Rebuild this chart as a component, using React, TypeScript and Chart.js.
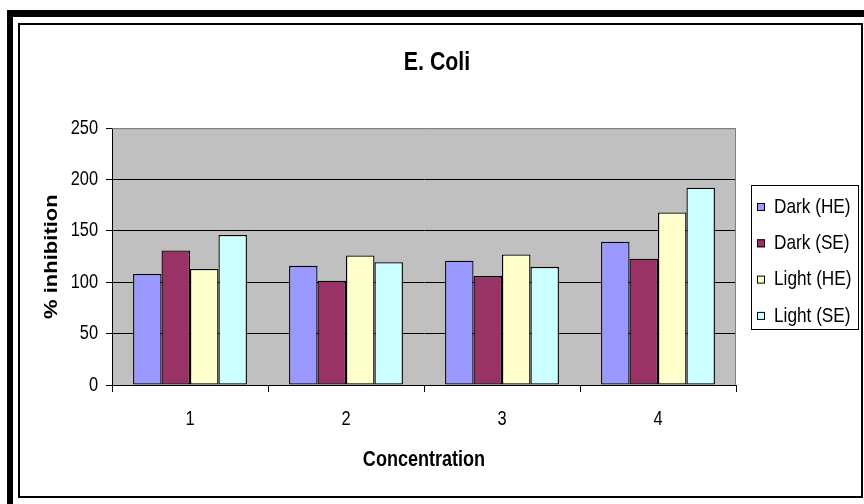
import React, { useEffect, useRef } from "react";
import { Chart, registerables } from "chart.js";

Chart.register(...registerables);

// Concentration levels on the x axis
const categories = ["1", "2", "3", "4"];
// Extract series
const seriesNames = ["Dark (HE)", "Dark (SE)", "Light (HE)", "Light (SE)"];
const darkHE = [108, 116, 121, 139.5];
const darkSE = [131, 101.5, 106, 123];
const lightHE = [113, 126, 127, 168];
const lightSE = [146, 119.5, 115, 192];
const seriesColors = ["#9999FF", "#993366", "#FFFFCC", "#CCFFFF"];
// Value axis
const yMin = 0;
const yMax = 250;
const yStep = 50;

const FONT = "'Liberation Sans', Arial, sans-serif";
// Condensed lettering: all text is squeezed along the screen's x direction
const TEXT_SCALE_X = 0.82;

// Grey plot background plus the grey top/right plot edge
const plotBackground = {
  id: "plotBackground",
  beforeDraw(chart: any) {
    const { ctx, chartArea: a } = chart;
    ctx.save();
    ctx.fillStyle = "#C0C0C0";
    ctx.fillRect(a.left, a.top, a.right - a.left, a.bottom - a.top);
    ctx.restore();
  },
  beforeDatasetsDraw(chart: any) {
    const { ctx, chartArea: a } = chart;
    ctx.save();
    ctx.strokeStyle = "#808080";
    ctx.lineWidth = 1;
    ctx.beginPath();
    ctx.moveTo(a.left, a.top + 0.5);
    ctx.lineTo(a.right - 0.5, a.top + 0.5);
    ctx.lineTo(a.right - 0.5, a.bottom);
    ctx.stroke();
    ctx.restore();
  },
};

// Boxed legend to the right of the plot
const boxedLegend = {
  id: "boxedLegend",
  afterDraw(chart: any) {
    const { ctx } = chart;
    const left = 751;
    const top = 185;
    const width = 107;
    const height = 144;
    ctx.save();
    ctx.strokeStyle = "#000";
    ctx.lineWidth = 1;
    ctx.strokeRect(left + 0.5, top + 0.5, width, height);
    ctx.font = `21px ${FONT}`;
    ctx.textBaseline = "middle";
    ctx.textAlign = "left";
    chart.data.datasets.forEach((ds: any, i: number) => {
      const cy = top + 21 + i * 36.3;
      ctx.fillStyle = ds.backgroundColor;
      ctx.fillRect(left + 6, cy - 3, 8, 8);
      ctx.strokeStyle = "#000";
      ctx.strokeRect(left + 6.5, cy - 2.5, 7, 7);
      ctx.fillStyle = "#000";
      ctx.fillText(ds.label, left + 23, cy + 1);
    });
    ctx.restore();
  },
};

export default function App() {
  const canvasRef = useRef<HTMLCanvasElement | null>(null);

  useEffect(() => {
    const canvas = canvasRef.current;
    if (!canvas) return;
    const ctx = canvas.getContext("2d") as CanvasRenderingContext2D;
    const plainFillText = ctx.fillText.bind(ctx);
    ctx.fillText = (text: string, x: number, y: number) => {
      const m = ctx.getTransform();
      const p = m.transformPoint(new DOMPoint(x, y));
      ctx.save();
      ctx.setTransform(
        new DOMMatrix()
          .translate(p.x, p.y)
          .scale(TEXT_SCALE_X, 1)
          .translate(-p.x, -p.y)
          .multiply(m)
      );
      plainFillText(text, x, y);
      ctx.restore();
    };

    Chart.defaults.font.family = FONT;
    Chart.defaults.color = "#000";
    const seriesValues = [darkHE, darkSE, lightHE, lightSE];
    const chart = new Chart(canvas, {
      type: "bar",
      data: {
        labels: categories,
        datasets: seriesNames.map((name, i) => ({
          label: name,
          data: seriesValues[i],
          backgroundColor: seriesColors[i],
          borderColor: "#000",
          borderWidth: 1.3,
          borderSkipped: false,
          categoryPercentage: 0.73,
          barPercentage: 1,
        })),
      },
      options: {
        animation: false,
        responsive: false,
        devicePixelRatio: 1,
        layout: { padding: { left: 10, right: 0, top: 0, bottom: 0 } },
        plugins: {
          legend: { display: false },
          tooltip: { enabled: false },
          title: {
            display: true,
            text: "E. Coli",
            color: "#000",
            font: { size: 26, weight: "bold", family: FONT },
            padding: { top: 47, bottom: 50 },
          },
        },
        scales: {
          x: {
            grid: {
              offset: true,
              drawOnChartArea: false,
              color: "#000",
              tickLength: 7,
            },
            border: { color: "#000", width: 1 },
            ticks: { color: "#000", font: { size: 20 }, padding: 15 },
            title: {
              display: true,
              text: "Concentration",
              color: "#000",
              font: { size: 22, weight: "bold", family: FONT },
              padding: { top: 0, bottom: 31 },
            },
            afterFit(scale: any) {
              scale.height = 119;
            },
          },
          y: {
            min: yMin,
            max: yMax,
            ticks: { stepSize: yStep, color: "#000", font: { size: 20 }, padding: 8 },
            grid: {
              color: (c: any) => (c.tick && c.tick.value === yMax ? "#808080" : "#000"),
              tickColor: "#000",
              tickLength: 6,
            },
            border: { color: "#000", width: 1 },
            title: {
              display: true,
              text: "% inhibition",
              color: "#000",
              font: { size: 22, weight: "bold", family: FONT },
              padding: { top: 29, bottom: 0 },
            },
            afterFit(scale: any) {
              scale.width = 102;
            },
          },
          gutter: {
            type: "linear",
            position: "right",
            display: true,
            grid: { display: false },
            border: { display: false },
            ticks: { display: false },
            afterFit(scale: any) {
              scale.width = 128;
            },
          },
        },
      },
      plugins: [plotBackground, boxedLegend],
    } as any);
    return () => chart.destroy();
  }, []);

  return (
    <div style={{ position: "fixed", left: 0, top: 0, width: 864, height: 504, background: "#fff", overflow: "hidden" }}>
      <div
        style={{
          position: "absolute",
          left: 7,
          top: 10,
          width: 900,
          height: 600,
          borderTop: "7px solid #000",
          borderLeft: "6px solid #000",
          boxSizing: "border-box",
        }}
      />
      <div
        style={{
          position: "absolute",
          left: 18,
          top: 23,
          width: 845,
          height: 475,
          border: "2px solid #000",
          boxSizing: "border-box",
        }}
      />
      <canvas
        ref={canvasRef}
        width={864}
        height={504}
        style={{ position: "absolute", left: 0, top: 0, width: 864, height: 504 }}
      />
    </div>
  );
}
